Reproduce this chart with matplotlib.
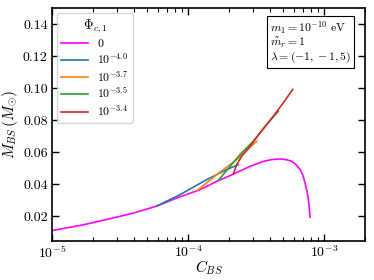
import numpy as np
import matplotlib
matplotlib.use("Agg")
import matplotlib.pyplot as plt

plt.rcParams['font.family'] = 'serif'
plt.rcParams['font.serif'] = ['cmr10']
plt.rcParams['mathtext.fontset'] = 'cm'
plt.rcParams['axes.formatter.use_mathtext'] = True

# curva Phi=0 (log10 C, M)
logc_0 = [-5.0, -4.770, -4.524, -4.402, -4.230, -4.083, -3.912, -3.789, -3.691,
          -3.544, -3.446, -3.385, -3.324, -3.280, -3.238, -3.205, -3.176, -3.155,
          -3.140, -3.125, -3.115, -3.108, -3.103]
m_0 = [0.0112, 0.0148, 0.0196, 0.0221, 0.0265, 0.0315, 0.0367, 0.0419, 0.0455,
       0.0513, 0.0544, 0.0555, 0.0559, 0.0555, 0.0544, 0.0522, 0.0492, 0.0455,
       0.0409, 0.0355, 0.0305, 0.0250, 0.0196]

logc_40 = [-4.230, -4.059, -3.863, -3.716, -3.630]
m_40 = [0.0265, 0.0336, 0.0430, 0.0492, 0.0524]

logc_37 = [-3.936, -3.789, -3.642, -3.495]
m_37 = [0.0360, 0.0461, 0.0555, 0.0670]

logc_35 = [-3.777, -3.691, -3.618, -3.520, -3.421, -3.336]
m_35 = [0.0425, 0.0513, 0.0586, 0.0670, 0.0774, 0.0857]

logc_34 = [-3.667, -3.642, -3.605, -3.544, -3.471, -3.373, -3.299, -3.230]
m_34 = [0.0465, 0.0524, 0.0576, 0.0638, 0.0722, 0.0826, 0.0910, 0.0993]

series = [
    (logc_0, m_0, '#ff00ff', r'$0$'),
    (logc_40, m_40, 'tab:blue', r'$10^{-4.0}$'),
    (logc_37, m_37, 'tab:orange', r'$10^{-3.7}$'),
    (logc_35, m_35, 'tab:green', r'$10^{-3.5}$'),
    (logc_34, m_34, 'tab:red', r'$10^{-3.4}$'),
]

fig = plt.figure(figsize=(3.74, 2.8), dpi=100)
ax = fig.add_axes([0.139, 0.141, 0.837, 0.83])

for lc, m, col, lab in series:
    ax.plot(10**np.array(lc), m, color=col, lw=1.2, label=lab)

ax.set_xscale('log')
ax.set_xlim(1e-5, 2e-3)
ax.set_ylim(0.005, 0.15)
ax.set_yticks([0.02, 0.04, 0.06, 0.08, 0.10, 0.12, 0.14])
ax.set_yticklabels(['0.02', '0.04', '0.06', '0.08', '0.10', '0.12', '0.14'])
ax.tick_params(which='both', direction='in', top=True, right=True, labelsize=10)
ax.tick_params(which='major', length=5, width=1, pad=3)
ax.tick_params(which='minor', length=3, width=0.8)
for s in ax.spines.values():
    s.set_linewidth(1.2)

ax.set_xlabel(r'$C_{BS}$', fontsize=11, labelpad=-2)
ax.set_ylabel(r'$M_{BS}\,(M_{\odot})$', fontsize=11, labelpad=2)

leg = ax.legend(title=r'$\Phi_{c,1}$', loc='upper left', fontsize=8.5,
                title_fontsize=9.5, handlelength=2.3, labelspacing=0.2,
                borderaxespad=0.4, borderpad=0.35)

ax.text(0.955, 0.955, '$m_1 = 10^{-10}$ eV\n' + r'$\tilde{m}_r = 1$' + '\n' + r'$\lambda = (-1, -1, 5)$',
        transform=ax.transAxes, ha='right', va='top', multialignment='left',
        fontsize=8.5, linespacing=1.0,
        bbox=dict(boxstyle='square,pad=0.25', facecolor='white', edgecolor='black', lw=0.8))

fig.savefig('out.png', dpi=100)
